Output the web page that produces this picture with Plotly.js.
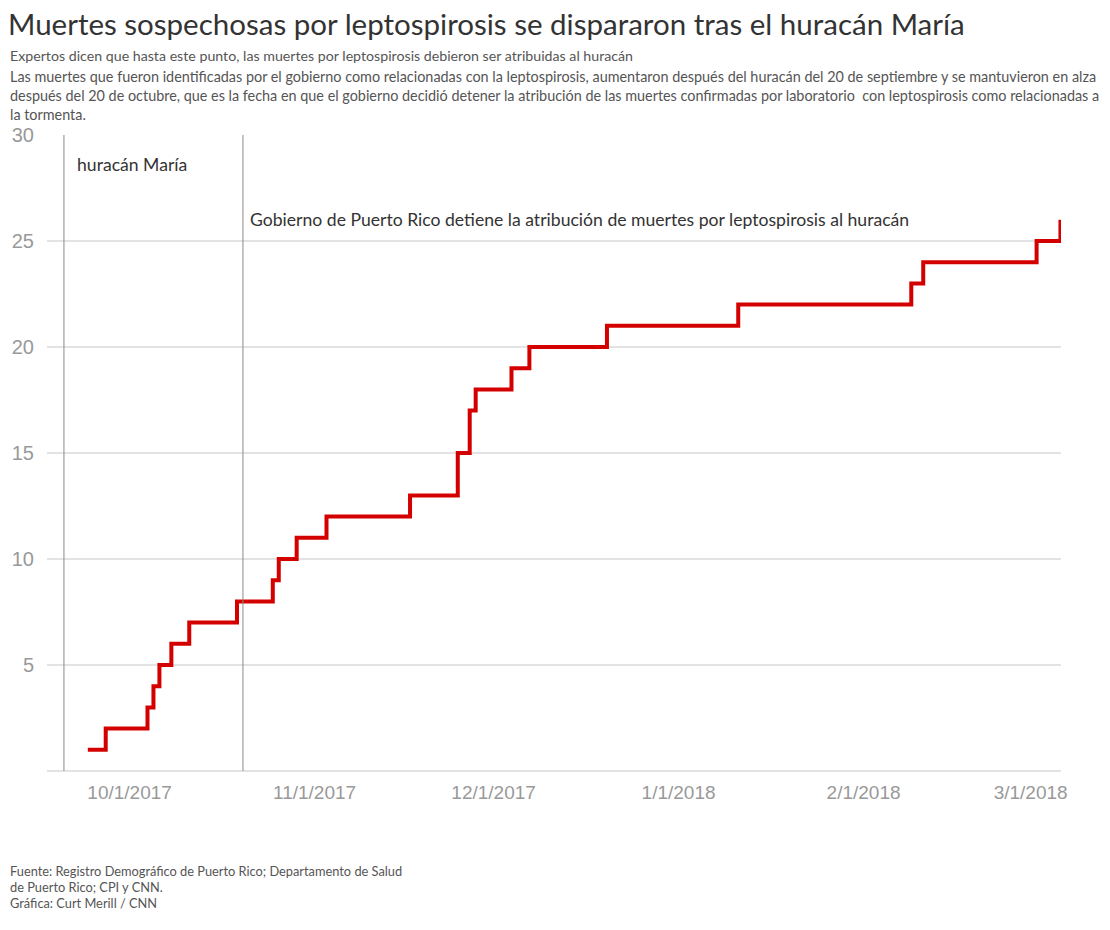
<!DOCTYPE html>
<html>
<head>
<meta charset="utf-8">
<script src="https://cdn.plot.ly/plotly-3.0.1.min.js"></script>
<style>
  html, body { margin: 0; padding: 0; background: #ffffff; }
  #chart { width: 1110px; height: 930px; }
</style>
</head>
<body>
<div id="chart"></div>
<script>
// ---- Data ----
const dates = ['2017-09-24','2017-09-27','2017-10-04','2017-10-05','2017-10-06','2017-10-08',
  '2017-10-11','2017-10-19','2017-10-25','2017-10-26','2017-10-29','2017-11-03','2017-11-17',
  '2017-11-25','2017-11-27','2017-11-28','2017-12-04','2017-12-07','2017-12-20','2018-01-11',
  '2018-02-09','2018-02-11','2018-03-02','2018-03-06'];
const deaths = [1,2,3,4,5,6,7,8,9,10,11,12,13,15,17,18,19,20,21,22,23,24,25,26];

const xTickVals = ['2017-10-01','2017-11-01','2017-12-01','2018-01-01','2018-02-01','2018-03-01'];
const xTickText = ['10/1/2017','11/1/2017','12/1/2017','1/1/2018','2/1/2018','3/1/2018'];
const yTickVals = [5,10,15,20,25,30];
const yTickText = ['5','10','15','20','25','30'];

const eventDates = ['2017-09-20','2017-10-20'];
const eventLabels = ['huracán María',
  'Gobierno de Puerto Rico detiene la atribución de muertes por leptospirosis al huracán'];
const eventLabelY = [28.6, 26.0];

const titleText = 'Muertes sospechosas por leptospirosis se dispararon tras el huracán María';
const subtitleText = 'Expertos dicen que hasta este punto, las muertes por leptospirosis debieron ser atribuidas al huracán';
const descLines = [
  'Las muertes que fueron identificadas por el gobierno como relacionadas con la leptospirosis, aumentaron después del huracán del 20 de septiembre y se mantuvieron en alza',
  'después del 20 de octubre, que es la fecha en que el gobierno decidió detener la atribución de las muertes confirmadas por laboratorio  con leptospirosis como relacionadas a',
  'la tormenta.'
];
const footerLines = [
  'Fuente: Registro Demográfico de Puerto Rico; Departamento de Salud',
  'de Puerto Rico; CPI y CNN.',
  'Gráfica: Curt Merill / CNN'
];

// ---- Layout helpers ----
const W = 1110, H = 930;
const M = {l: 47, r: 49, t: 135, b: 159};
const PW = W - M.l - M.r, PH = H - M.t - M.b;
const px = x => (x - M.l) / PW;          // pixel -> paper x
const py = y => (H - M.b - y) / PH;      // pixel -> paper y

const textFont = 'Lato, "Open Sans", sans-serif';
const numFont = '"Liberation Sans", Arial, sans-serif';

const annotations = [];
annotations.push({xref:'paper', yref:'paper', x: px(8), y: py(55), xanchor:'left', yanchor:'middle',
  text: subtitleText, showarrow:false, font:{family:textFont, size:14.2, color:'#555'}});
descLines.forEach((t, i) => {
  annotations.push({xref:'paper', yref:'paper', x: px(8), y: py(77 + i * 18.5), xanchor:'left', yanchor:'middle',
    text: t, showarrow:false, font:{family:textFont, size:14.4, color:'#555'}});
});
footerLines.forEach((t, i) => {
  annotations.push({xref:'paper', yref:'paper', x: px(8), y: py(871 + i * 16), xanchor:'left', yanchor:'middle',
    text: t, showarrow:false, font:{family:textFont, size:12.8, color:'#555'}});
});
const eventShift = [11, 5];
eventDates.forEach((d, i) => {
  annotations.push({xref:'x', yref:'y', x: d, y: eventLabelY[i], xanchor:'left', yanchor:'middle',
    xshift: eventShift[i], text: eventLabels[i], showarrow:false, font:{family:textFont, size:17.6, color:'#333'}});
});

const shapes = eventDates.map(d => ({
  type:'line', xref:'x', yref:'paper', x0:d, x1:d, y0:0, y1:1,
  line:{color:'#8a8a8a', width:1}, layer:'above'
}));

const trace = {
  x: dates, y: deaths, type:'scatter', mode:'lines',
  line:{shape:'hv', color:'#d40000', width:4},
  hoverinfo:'x+y'
};

const layout = {
  width: W, height: H,
  margin: M,
  paper_bgcolor:'#ffffff', plot_bgcolor:'#ffffff',
  showlegend:false,
  title:{text:titleText, xref:'container', yref:'container', x: 8/W, y: 1 - 25/H,
    xanchor:'left', yanchor:'middle', font:{family:textFont, size:29.5, color:'#333'}},
  xaxis:{type:'date', range:['2017-09-17 03:50','2018-03-06 02:10'],
    tickmode:'array', tickvals:xTickVals, ticktext:xTickText,
    showgrid:false, zeroline:false, showline:false, ticks:'',
    ticklabelstandoff: 8,
    tickfont:{family:numFont, size:19, color:'#999'}},
  yaxis:{range:[0,30], tickmode:'array', tickvals:yTickVals, ticktext:yTickText,
    showgrid:true, gridcolor:'#e3e3e3', gridwidth:1.5,
    zeroline:true, zerolinecolor:'#e3e3e3', zerolinewidth:2,
    showline:false, ticks:'', ticklabelstandoff: 12,
    tickfont:{family:numFont, size:20, color:'#999'}},
  annotations: annotations,
  shapes: shapes
};

Plotly.newPlot('chart', [trace], layout, {displayModeBar:false, staticPlot:true});
</script>
</body>
</html>
